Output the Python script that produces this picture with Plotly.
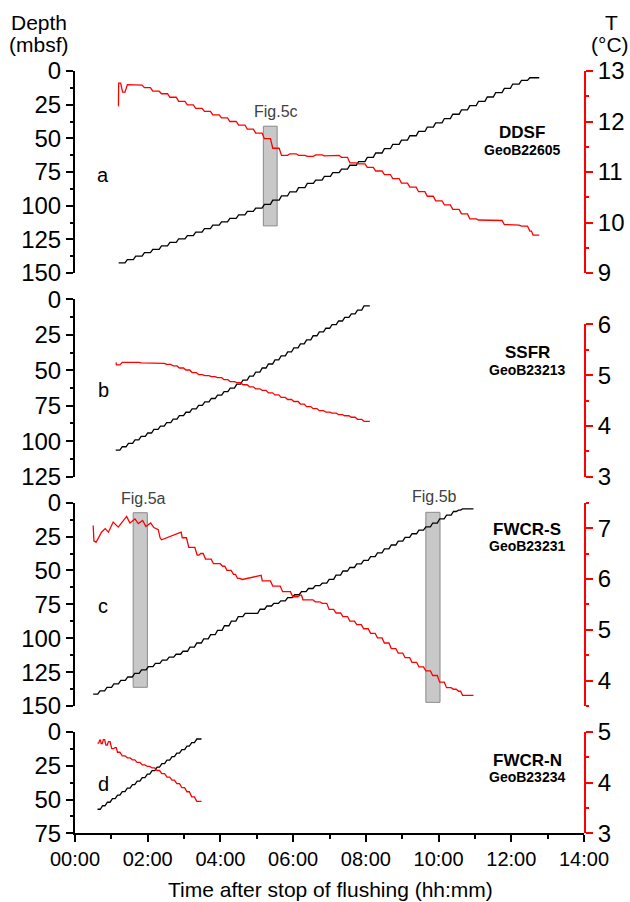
import plotly.graph_objects as go

W, H = 630, 902
FONT = "Liberation Sans, Arial, sans-serif"
RED = "#ff0000"
BLACK = "#000000"

# ---------------- data (time in hours after stop of flushing) ----------------
# a: DDSF, GeoB22605
a_depth_t = [1.20, 1.44, 1.67, 1.91, 2.14, 2.38, 2.61, 2.85, 3.09, 3.32, 3.56, 3.79,
             4.03, 4.26, 4.50, 4.74, 4.97, 5.21, 5.44, 5.68, 5.91, 6.15, 6.39, 6.62,
             6.86, 7.09, 7.33, 7.56, 7.80, 8.04, 8.27, 8.51, 8.74, 8.98, 9.21, 9.45,
             9.69, 9.92, 10.16, 10.39, 10.63, 10.86, 11.10, 11.34, 11.57, 11.81, 12.04,
             12.28, 12.51]
a_depth = [142.5, 140.0, 137.5, 134.9, 132.4, 129.8, 127.3, 124.7, 122.2, 119.6, 117.1,
           114.5, 112.0, 109.4, 106.9, 104.3, 101.8, 99.0, 95.9, 92.8, 89.7, 86.6, 83.5,
           81.0, 78.3, 75.5, 72.8, 70.0, 67.3, 64.1, 60.9, 57.7, 54.5, 51.3, 48.1, 44.9,
           41.7, 38.5, 35.3, 32.1, 28.9, 25.7, 22.5, 19.3, 16.1, 12.9, 9.7, 7.0, 5.0]
a_end = 12.77
a_temp_t = [1.19, 1.20, 1.31, 1.44, 1.67, 1.91, 2.14, 2.38, 2.61, 2.85, 3.09, 3.32,
            3.56, 3.79, 4.03, 4.26, 4.50, 4.74, 4.97, 5.21, 5.44, 5.68, 5.91, 6.15,
            6.39, 6.62, 6.86, 7.09, 7.33, 7.56, 7.80, 8.04, 8.27, 8.51, 8.74, 8.98,
            9.21, 9.45, 9.69, 9.92, 10.16, 10.39, 10.63, 10.86, 11.10, 11.34, 11.57,
            11.81, 12.04, 12.28, 12.51, 12.60]
a_temp = [12.31, 12.76, 12.58, 12.73, 12.72, 12.67, 12.60, 12.55, 12.48, 12.40, 12.33,
          12.26, 12.20, 12.13, 12.07, 12.00, 11.93, 11.85, 11.77, 11.66, 11.47, 11.33,
          11.36, 11.33, 11.31, 11.34, 11.32, 11.33, 11.29, 11.18, 11.16, 11.09, 11.02,
          10.95, 10.87, 10.78, 10.70, 10.61, 10.52, 10.43, 10.35, 10.26, 10.17, 10.07,
          10.05, 10.05, 10.04, 9.96, 9.95, 9.93, 9.83, 9.75]

# b: SSFR, GeoB23213
b_depth_t = [1.12, 1.30, 1.47, 1.65, 1.82, 2.00, 2.17, 2.35, 2.52, 2.70, 2.87, 3.05,
             3.22, 3.40, 3.57, 3.75, 3.92, 4.10, 4.27, 4.45, 4.62, 4.80, 4.97, 5.15,
             5.32, 5.50, 5.67, 5.85, 6.02, 6.20, 6.37, 6.55, 6.72, 6.90, 7.07, 7.25,
             7.42, 7.60, 7.77, 7.95]
b_depth = [106.3, 103.9, 101.5, 99.0, 96.6, 94.2, 91.7, 89.3, 86.9, 84.5, 82.0, 79.6,
           77.2, 74.7, 72.3, 69.9, 67.5, 65.0, 62.6, 59.8, 56.9, 54.1, 51.3, 48.4, 45.6,
           42.7, 39.9, 37.1, 34.2, 31.4, 28.6, 25.7, 22.9, 20.4, 17.8, 15.3, 12.7, 10.2,
           7.6, 4.7]
b_end = 8.11
b_temp_t = [1.12, 1.14, 1.30, 1.47, 1.65, 1.82, 2.00, 2.17, 2.35, 2.52, 2.70, 2.87,
            3.05, 3.22, 3.40, 3.57, 3.75, 3.92, 4.10, 4.27, 4.45, 4.62, 4.80, 4.97,
            5.15, 5.32, 5.50, 5.67, 5.85, 6.02, 6.20, 6.37, 6.55, 6.72, 6.90, 7.07,
            7.25, 7.42, 7.60, 7.77, 7.95]
b_temp = [5.24, 5.20, 5.25, 5.26, 5.25, 5.24, 5.24, 5.23, 5.23, 5.21, 5.18, 5.14, 5.10,
          5.05, 5.01, 4.99, 4.97, 4.95, 4.91, 4.87, 4.85, 4.81, 4.77, 4.73, 4.70, 4.65,
          4.61, 4.56, 4.52, 4.48, 4.43, 4.38, 4.34, 4.30, 4.27, 4.25, 4.22, 4.20, 4.17,
          4.13, 4.09]

# c: FWCR-S, GeoB23231
c_depth_t = [0.50, 0.69, 0.88, 1.07, 1.26, 1.45, 1.64, 1.83, 2.02, 2.21, 2.40, 2.59,
             2.78, 2.97, 3.16, 3.35, 3.54, 3.73, 3.92, 4.11, 4.30, 4.49, 4.68, 5.09,
             5.28, 5.47, 5.66, 5.85, 6.04, 6.23, 6.42, 6.61, 6.80, 6.99, 7.18, 7.37,
             7.56, 7.75, 7.94, 8.13, 8.32, 8.51, 8.70, 8.89, 9.08, 9.27, 9.46, 9.65,
             9.84, 10.03, 10.22, 10.41, 10.55, 10.66]
c_depth = [141.3, 138.8, 136.2, 133.7, 131.1, 128.6, 126.0, 123.4, 120.9, 118.5, 116.2,
           113.9, 111.8, 109.6, 106.6, 103.5, 100.5, 97.4, 94.2, 90.8, 87.4, 84.1, 81.6,
           78.6, 76.2, 74.3, 72.4, 70.1, 67.9, 65.6, 63.3, 61.2, 59.4, 56.6, 53.4, 50.4,
           47.8, 45.2, 42.5, 39.8, 37.0, 34.1, 31.2, 28.4, 25.6, 22.9, 20.2, 17.8, 15.0,
           12.0, 9.2, 6.5, 5.5, 4.6]
c_end = 10.96
# FWCR-S temperature: irregular start (drawn point to point) ...
c_temp_early_t = [0.50, 0.52, 0.58, 0.73, 0.83, 0.92, 1.05, 1.19, 1.42, 1.51, 1.65,
                  1.74, 1.86, 1.95, 2.08, 2.17, 2.29, 2.34, 2.38]
c_temp_early = [7.05, 6.75, 6.72, 6.92, 6.99, 6.92, 7.12, 7.02, 7.23, 7.10, 7.18, 7.09,
                7.15, 7.03, 7.10, 7.01, 6.97, 6.81, 6.77]
# ... then station readings before and after the gap at 04:36-05:05
c_temp_t1 = [2.89, 2.95, 3.13, 3.36, 3.46, 3.59, 3.81, 4.06, 4.18, 4.36, 4.47, 4.60]
c_temp1 = [6.92, 6.81, 6.62, 6.47, 6.50, 6.39, 6.30, 6.25, 6.17, 6.09, 6.01, 5.99]
c_temp_t2 = [5.09, 5.15, 5.44, 5.71, 5.99, 6.19, 6.27, 6.61, 6.80, 6.99, 7.18, 7.37,
             7.56, 7.75, 7.94, 8.13, 8.32, 8.51, 8.70, 8.89, 9.08, 9.27, 9.46, 9.65,
             9.84, 10.03, 10.22, 10.41, 10.55, 10.66]
c_temp2 = [6.07, 5.96, 5.86, 5.75, 5.65, 5.68, 5.59, 5.55, 5.52, 5.40, 5.33, 5.26, 5.17,
           5.10, 5.02, 4.93, 4.84, 4.74, 4.63, 4.54, 4.45, 4.36, 4.27, 4.19, 4.10, 3.97,
           3.86, 3.83, 3.79, 3.71]

# d: FWCR-N, GeoB23234
d_depth_t = [0.62, 0.76, 0.89, 1.03, 1.17, 1.30, 1.44, 1.58, 1.71, 1.85, 1.99, 2.12,
             2.26, 2.39, 2.53, 2.67, 2.80, 2.94, 3.08, 3.21, 3.35]
d_depth = [57.2, 54.6, 52.0, 49.4, 46.8, 44.2, 41.6, 39.0, 36.4, 33.8, 31.2, 28.6, 26.0,
           23.4, 20.8, 18.2, 15.6, 13.0, 10.4, 7.8, 5.2]
d_end = 3.48
d_temp_t = [0.62, 0.68, 0.72, 0.78, 0.85, 0.92, 1.01, 1.10, 1.17, 1.30, 1.44, 1.58,
            1.71, 1.85, 1.99, 2.12, 2.26, 2.39, 2.53, 2.67, 2.80, 2.94, 3.08, 3.21, 3.35]
d_temp = [4.78, 4.84, 4.77, 4.85, 4.74, 4.81, 4.67, 4.69, 4.60, 4.53, 4.49, 4.45, 4.40,
          4.35, 4.32, 4.29, 4.24, 4.18, 4.11, 4.05, 3.98, 3.90, 3.82, 3.72, 3.63]

# highlighted intervals: (t0, t1, depth top, depth bottom)
fig5c_box = (5.18, 5.56, 41.0, 115.0)
fig5a_box = (1.60, 1.99, 7.4, 136.2)
fig5b_box = (9.65, 10.04, 7.1, 147.3)

x_tick_vals = [0, 2, 4, 6, 8, 10, 12, 14]
x_tick_text = ["00:00", "02:00", "04:00", "06:00", "08:00", "10:00", "12:00", "14:00"]

# ---------------- helpers ----------------
MOVE = 0.065  # hours the probe needs to move between two stations


def stairs(times, values, end):
    """Hold each station value, then move to the next one."""
    xs, ys = [], []
    n = len(times)
    for i in range(n):
        xs.append(times[i])
        ys.append(values[i])
        if i < n - 1:
            ramp = min(MOVE, 0.5 * (times[i + 1] - times[i]))
            xs.append(times[i + 1] - ramp)
        else:
            xs.append(end)
        ys.append(values[i])
    return xs, ys


def dom(top_px, bottom_px):
    return [1 - bottom_px / H, 1 - top_px / H]


X_DOM = [75 / W, 584 / W]

fig = go.Figure()


def add_line(xs, ys, yaxis, color):
    fig.add_trace(go.Scatter(x=xs, y=ys, xaxis="x", yaxis=yaxis, mode="lines",
                             line=dict(color=color, width=1.3), hoverinfo="skip"))


# panel a
add_line(*stairs(a_depth_t, a_depth, a_end), "y", BLACK)
add_line(*stairs(a_temp_t, a_temp, a_end), "y2", RED)
# panel b
add_line(*stairs(b_depth_t, b_depth, b_end), "y3", BLACK)
add_line(*stairs(b_temp_t, b_temp, b_end), "y4", RED)
# panel c
add_line(*stairs(c_depth_t, c_depth, c_end), "y5", BLACK)
c1x, c1y = stairs(c_temp_t1, c_temp1, c_temp_t1[-1])
c2x, c2y = stairs(c_temp_t2, c_temp2, c_end)
add_line(c_temp_early_t + c1x + c2x, c_temp_early + c1y + c2y, "y6", RED)
# panel d
add_line(*stairs(d_depth_t, d_depth, d_end), "y7", BLACK)
add_line(*stairs(d_temp_t, d_temp, d_end), "y8", RED)

x_tick_font = dict(family=FONT, size=20, color=BLACK)
y_tick_font = dict(family=FONT, size=24, color=BLACK)


def depth_axis(domain, rng):
    return dict(domain=domain, range=rng, anchor="x", side="left", automargin=False,
                tickmode="linear", tick0=0, dtick=25,
                showline=True, linecolor=BLACK, linewidth=2,
                ticks="outside", ticklen=7, tickwidth=2, tickcolor=BLACK,
                minor=dict(dtick=12.5, ticks="outside", ticklen=3, tickwidth=2,
                           tickcolor=BLACK),
                showgrid=False, zeroline=False, tickfont=y_tick_font)


def temp_axis(domain, rng):
    return dict(domain=domain, range=rng, anchor="x", side="right", automargin=False,
                tickmode="linear", tick0=0, dtick=1,
                showline=True, linecolor=RED, linewidth=2,
                ticks="outside", ticklen=7, tickwidth=2, tickcolor=RED,
                minor=dict(dtick=0.5, ticks="outside", ticklen=3, tickwidth=2,
                           tickcolor=RED),
                showgrid=False, zeroline=False, tickfont=y_tick_font)


fig.update_layout(
    width=W, height=H,
    margin=dict(l=0, r=0, t=0, b=0, autoexpand=False),
    paper_bgcolor="white", plot_bgcolor="rgba(0,0,0,0)",
    showlegend=False,
    font=dict(family=FONT, color=BLACK),
    xaxis=dict(domain=X_DOM, range=[0, 14], anchor="y7", automargin=False,
               tickmode="array", tickvals=x_tick_vals, ticktext=x_tick_text,
               showline=True, linecolor=BLACK, linewidth=2,
               ticks="outside", ticklen=7, tickwidth=2, tickcolor=BLACK,
               minor=dict(tickmode="array", tickvals=[1, 3, 5, 7, 9, 11, 13],
                          ticks="outside", ticklen=4, tickwidth=2, tickcolor=BLACK),
               showgrid=False, zeroline=False, tickfont=x_tick_font),
    yaxis=depth_axis(dom(71, 273), [150, 0]),
    yaxis2=temp_axis(dom(71, 273), [9, 13]),
    yaxis3=depth_axis(dom(299.3, 476.7), [125, 0]),
    yaxis4=temp_axis(dom(324.3, 476.7), [3, 6]),
    yaxis5=depth_axis(dom(502.7, 706), [150, 0]),
    yaxis6=temp_axis(dom(502.7, 706), [3.5, 7.5]),
    yaxis7=depth_axis(dom(732, 833.3), [75, 0]),
    yaxis8=temp_axis(dom(732, 833.3), [3, 5]),
)

# gray boxes marking the intervals shown in Fig. 5
for box, yref in ((fig5c_box, "y"), (fig5a_box, "y5"), (fig5b_box, "y5")):
    t0, t1, d0, d1 = box
    fig.add_shape(type="rect", xref="x", yref=yref, x0=t0, x1=t1, y0=d0, y1=d1,
                  fillcolor="#c8c8c8", line=dict(color="#8a8a8a", width=1),
                  layer="below")


def text(x_px, y_px, s, size=20, bold=False, color=BLACK):
    fig.add_annotation(x=x_px / W, y=1 - y_px / H, xref="paper", yref="paper",
                       text=f"<b>{s}</b>" if bold else s, showarrow=False,
                       xanchor="center", yanchor="middle",
                       font=dict(family=FONT, size=size, color=color))


# axis titles
text(39, 22, "Depth", size=21)
text(39, 44, "(mbsf)", size=21)
text(611, 22, "T", size=21)
text(610, 44, "(°C)", size=21)
text(330, 889, "Time after stop of flushing (hh:mm)", size=21)

# panel letters
text(103, 175, "a")
text(103, 390, "b")
text(103, 606, "c")
text(103, 784, "d")

# site names
text(522, 132, "DDSF", size=17, bold=True)
text(522, 150, "GeoB22605", size=14, bold=True)
text(527, 352, "SSFR", size=17, bold=True)
text(527, 370, "GeoB23213", size=14, bold=True)
text(527, 529, "FWCR-S", size=17, bold=True)
text(527, 546, "GeoB23231", size=14, bold=True)
text(527, 760, "FWCR-N", size=17, bold=True)
text(527, 777, "GeoB23234", size=14, bold=True)

# box labels
text(276, 112, "Fig.5c", size=16, color="#404040")
text(143, 498, "Fig.5a", size=16, color="#404040")
text(434, 496, "Fig.5b", size=16, color="#404040")

fig.write_html("out.html")
